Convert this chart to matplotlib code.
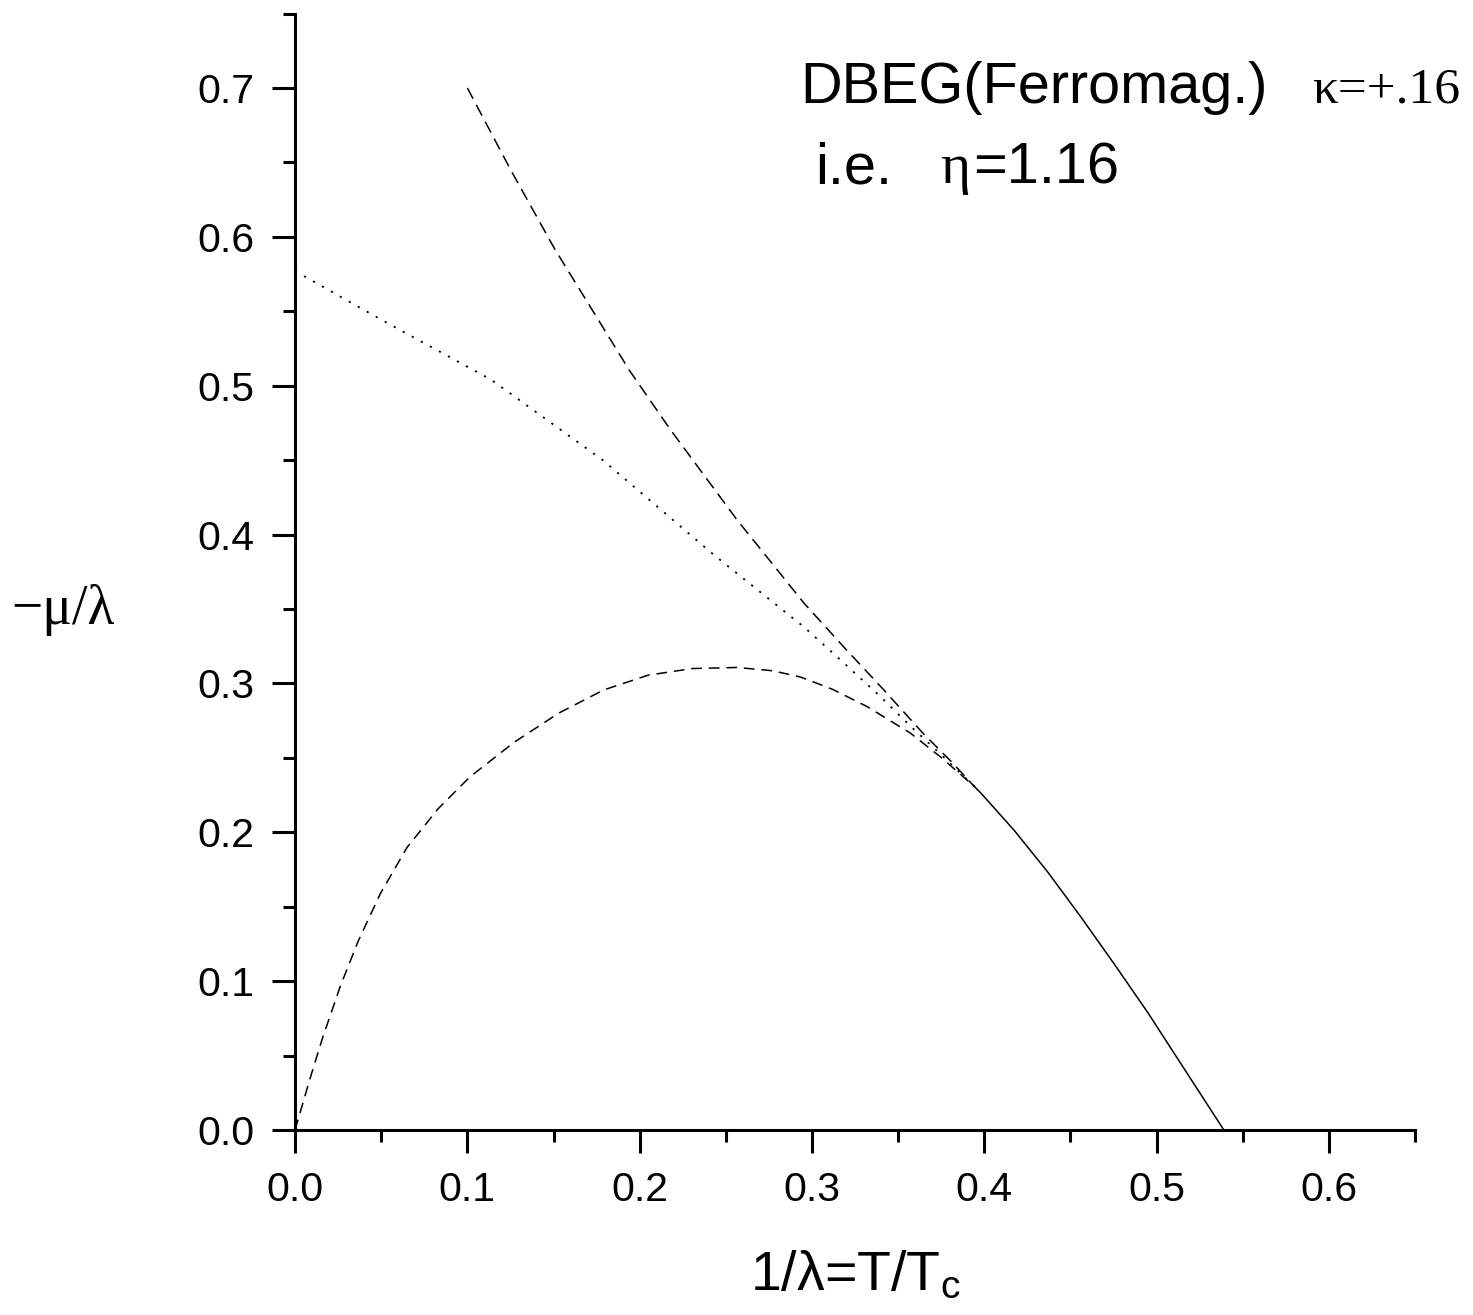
"""Phase diagram, DBEG ferromagnetic case (kappa = +.16)."""

import matplotlib

matplotlib.use("Agg")
import matplotlib.pyplot as plt
from matplotlib.ticker import MultipleLocator, FormatStrFormatter

plt.rcParams["font.family"] = ["Liberation Sans", "DejaVu Sans"]
plt.rcParams["mathtext.default"] = "regular"

# upper steep dashed branch
steep_x = [0.100, 0.1256, 0.1506, 0.1942, 0.2175, 0.2564, 0.2953, 0.3184, 0.3417,
           0.3648, 0.3804, 0.394]
steep_y = [0.700, 0.644, 0.592, 0.510, 0.471, 0.410, 0.354, 0.3245, 0.2956,
           0.266, 0.248, 0.231]

# dotted branch starting on the y axis
dotted_x = [0.0, 0.049, 0.1138, 0.1786, 0.2434, 0.2952, 0.3166, 0.3398, 0.3572,
            0.3746, 0.394]
dotted_y = [0.577, 0.545, 0.504, 0.450, 0.386, 0.338, 0.3157, 0.291, 0.2712,
            0.2525, 0.231]

# lower dashed dome
low_x = [0.0, 0.0083, 0.016, 0.0264, 0.0367, 0.0496, 0.0651, 0.0832, 0.1013, 0.1272,
         0.1530, 0.1789, 0.2048, 0.2306, 0.2565, 0.2772, 0.2933, 0.3120, 0.332,
         0.357, 0.3746, 0.394]
low_y = [0.0, 0.033, 0.062, 0.097, 0.127, 0.159, 0.190, 0.216, 0.237, 0.2605,
         0.280, 0.2955, 0.3055, 0.3100, 0.3107, 0.3085, 0.3043, 0.2960, 0.2844,
         0.2667, 0.2506, 0.231]

# solid line down to the x axis
solid_x = [0.394, 0.3981, 0.4174, 0.4368, 0.4561, 0.4754, 0.4948, 0.5141, 0.539]
solid_y = [0.231, 0.2262, 0.2012, 0.1733, 0.1430, 0.1115, 0.0790, 0.0445, 0.0]

fig = plt.figure(figsize=(14.73, 13.15), dpi=100)
ax = fig.add_axes([0.2003, 0.1407, 0.7604, 0.849])

ax.plot(steep_x, steep_y, color="black", lw=1.1, ls=(0, (8, 4.5)))
ax.plot(dotted_x, dotted_y, color="black", lw=1.3, ls=(0, (1.2, 4.5)))
ax.plot(low_x, low_y, color="black", lw=1.1, ls=(0, (7, 4.5)))
ax.plot(solid_x, solid_y, color="black", lw=1.1)

ax.set_xlim(0.0, 0.65)
ax.set_ylim(0.0, 0.75)

for side in ("top", "right"):
    ax.spines[side].set_visible(False)
for side in ("left", "bottom"):
    ax.spines[side].set_linewidth(2.2)

ax.xaxis.set_major_locator(MultipleLocator(0.1))
ax.xaxis.set_minor_locator(MultipleLocator(0.05))
ax.yaxis.set_major_locator(MultipleLocator(0.1))
ax.yaxis.set_minor_locator(MultipleLocator(0.05))
ax.xaxis.set_major_formatter(FormatStrFormatter("%.1f"))
ax.yaxis.set_major_formatter(FormatStrFormatter("%.1f"))
ax.tick_params(which="major", direction="out", length=16.5, width=2.2,
               labelsize=29.5, pad=13)
ax.tick_params(which="minor", direction="out", length=8.5, width=2.2)

ax.set_xlabel("1/λ=T/T$_c$", fontsize=40)
ax.xaxis.set_label_coords(0.5, -0.1433)
ax.xaxis.label.set_va("baseline")

ax.set_ylabel("\u2212\u03bc/\u03bb", fontsize=40, rotation=0,
              family="Liberation Serif", ha="center", va="center")
ax.yaxis.set_label_coords(-0.207, 0.466)

ax.text(0.2933, 0.690, "DBEG(Ferromag.)", fontsize=41.5, va="baseline")
ax.text(0.591, 0.690, "\u03ba=+.16", fontsize=37, va="baseline",
        family="Liberation Serif")
ax.text(0.302, 0.636, "i.e.", fontsize=41.5, va="baseline")
ax.text(0.3745, 0.636, "\u03b7", fontsize=41.5, va="baseline",
        family="Liberation Serif")
ax.text(0.3935, 0.636, "=1.16", fontsize=41.5, va="baseline")

fig.savefig("out.png", dpi=100)
plt.close(fig)
